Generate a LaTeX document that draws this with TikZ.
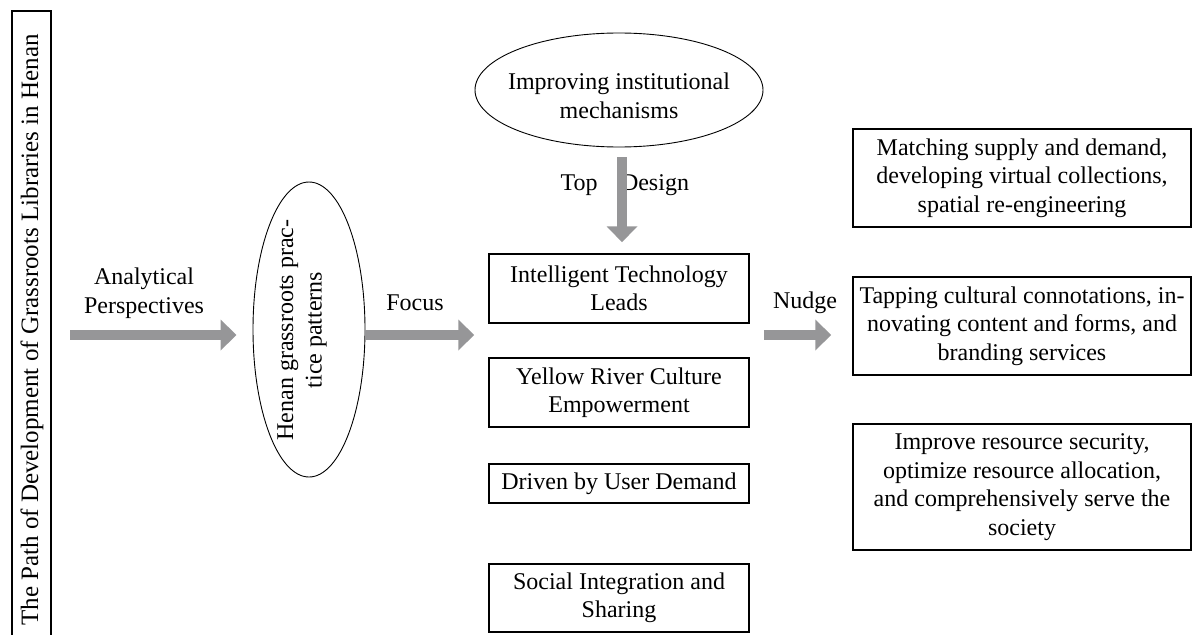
\documentclass[tikz,border=0pt]{standalone}
\usepackage{fontspec}
\setmainfont{Liberation Serif}
\usetikzlibrary{arrows.meta,shapes.geometric}
\definecolor{arrowgray}{RGB}{150,150,152}

\begin{document}
\begin{tikzpicture}[x=1pt,y=-1pt,font=\fontsize{24}{28.5}\selectfont,
  box/.style={draw,line width=1.5pt,align=center,inner sep=0pt},
  oval/.style={draw,ellipse,line width=0.9pt,inner sep=0pt},
  fat/.style={draw=arrowgray,line width=10pt,-{Triangle[width=30pt,length=16pt]},arrowgray}]
\useasboundingbox (0,0) rectangle (1193,634);

% title bar on the left, open at the bottom
\draw[line width=1.5pt] (12,660) |- (51,11) -- (51,660);
\node[rotate=90,font=\fontsize{25}{30}\selectfont] (title) at (32,330) {The Path of Development of Grassroots Libraries in Henan};

% ovals
\node[oval,minimum width=112,minimum height=295] (hgp) at (309,329.5) {};
\node[rotate=90,align=center] (hgptext) at (302,330) {Henan grassroots prac-\\tice patterns};
\node[oval,minimum width=288,minimum height=114] (inst) at (619,90) {};
\node[align=center] (insttext) at (619,96) {Improving institutional\\mechanisms};

% middle column
\node[box,minimum width=260,minimum height=69] (tech) at (619,288.5) {Intelligent Technology\\Leads};
\node[box,minimum width=260,minimum height=69] (river) at (619,392.5) {Yellow River Culture\\Empowerment};
\node[box,minimum width=260,minimum height=39] (user) at (619,483.5) {Driven by User Demand};
\node[box,minimum width=260,minimum height=68] (social) at (619,598) {Social Integration and\\Sharing};

% right column
\node[box,minimum width=338,minimum height=98] (match) at (1022,178) {Matching supply and demand,\\developing virtual collections,\\spatial re-engineering};
\node[box,minimum width=338,minimum height=98] (tap) at (1022,326) {Tapping cultural connotations, in-\\novating content and forms, and\\branding services};
\node[box,minimum width=338,minimum height=126] (secure) at (1022,487) {Improve resource security,\\optimize resource allocation,\\and comprehensively serve the\\society};

% labels
\node[align=center] (analytic) at (144,293) {Analytical\\Perspectives};
\node (focus) at (415,303) {Focus};
\node (nudge) at (805,303) {Nudge};
\node (top) at (579,185) {Top};
\node (design) at (655,185) {Design};

% arrows
\coordinate (start) at (70,335);
\draw[fat,shorten >=16pt] (start) -- (hgp.west |- start);
\draw[fat,shorten >=14pt] (hgp.east |- start) -- (tech.west |- start);
\draw[fat,shorten <=14pt,shorten >=21pt] (tech.east |- start) -- (tap.west |- start);
\draw[fat,shorten <=10pt,shorten >=11pt] ([xshift=3pt]inst.south) -- ([xshift=3pt]tech.north);
\end{tikzpicture}
\end{document}
